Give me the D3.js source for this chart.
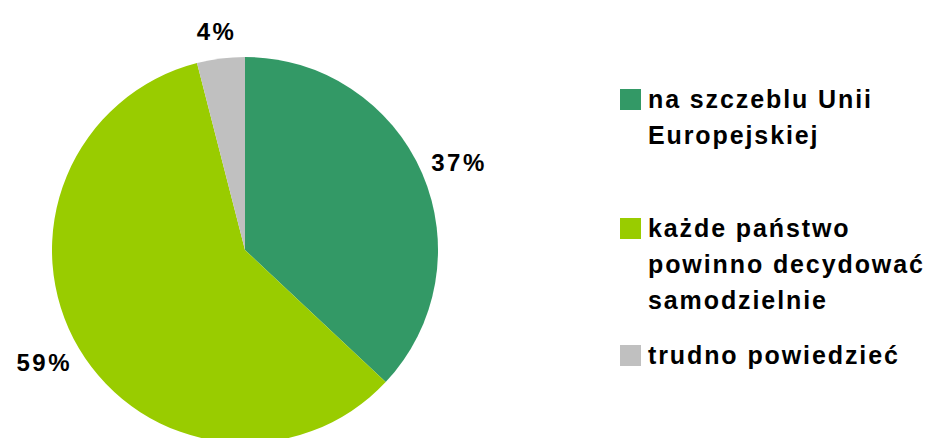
<!DOCTYPE html>
<html>
<head>
<meta charset="utf-8">
<script src="https://cdn.jsdelivr.net/npm/d3@7"></script>
<style>
  body { margin: 0; background: #fff; }
  svg { display: block; font-family: Arial, "Liberation Sans", sans-serif; font-weight: bold; }
</style>
</head>
<body>
<svg width="937" height="438"></svg>
<script>
var categories = ["na szczeblu Unii Europejskiej", "każde państwo powinno decydować samodzielnie", "trudno powiedzieć"];
var values = [37, 59, 4];
var legendLines = [["na szczeblu Unii", "Europejskiej"], ["każde państwo", "powinno decydować", "samodzielnie"], ["trudno powiedzieć"]];
var colors = ["#339966", "#99CC00", "#C0C0C0"];

var svg = d3.select("svg");
var cx = 245, cy = 250, radius = 193;

var color = d3.scaleOrdinal().domain(categories).range(colors);

var pie = d3.pie().sort(null).value(function(d) { return d.value; });
var data = categories.map(function(c, i) { return { name: c, value: values[i] }; });
var arcs = pie(data);

var arc = d3.arc().innerRadius(0).outerRadius(radius);
var labelArc = d3.arc().innerRadius(211).outerRadius(211);

var g = svg.append("g").attr("transform", "translate(" + cx + "," + cy + ")");

g.selectAll("path")
    .data(arcs)
  .enter().append("path")
    .attr("d", arc)
    .attr("fill", function(d) { return color(d.data.name); });

// outside-end labels: push the label box away from the pie along its mid angle
g.selectAll("text.pct")
    .data(arcs)
  .enter().append("text")
    .attr("class", "pct")
    .attr("text-anchor", "middle")
    .attr("dy", "0.36em")
    .style("font-size", "24px")
    .style("letter-spacing", "2.5px")
    .text(function(d) { return d.data.value + "%"; })
    .attr("transform", function(d) {
        var c = labelArc.centroid(d);
        var bb = this.getBBox();
        var a = (d.startAngle + d.endAngle) / 2;
        var x = c[0] + Math.sin(a) * bb.width * 0.4;
        var y = c[1] - Math.cos(a) * bb.height * 0.35;
        return "translate(" + x + "," + y + ")";
    });

// legend
var legendTop = [89, 218, 345];
var legend = svg.append("g");
var item = legend.selectAll("g")
    .data(categories)
  .enter().append("g")
    .attr("transform", function(d, i) { return "translate(620," + legendTop[i] + ")"; });

item.append("rect")
    .attr("width", 21)
    .attr("height", 21)
    .attr("fill", function(d) { return color(d); });

item.append("text")
    .attr("x", 28)
    .attr("y", 19)
    .style("font-size", "25px")
    .style("letter-spacing", "1.9px")
    .selectAll("tspan")
    .data(function(d, i) { return legendLines[i]; })
  .enter().append("tspan")
    .attr("x", 28)
    .attr("dy", function(d, j) { return j === 0 ? 0 : 36; })
    .text(function(d) { return d; });
</script>
</body>
</html>
